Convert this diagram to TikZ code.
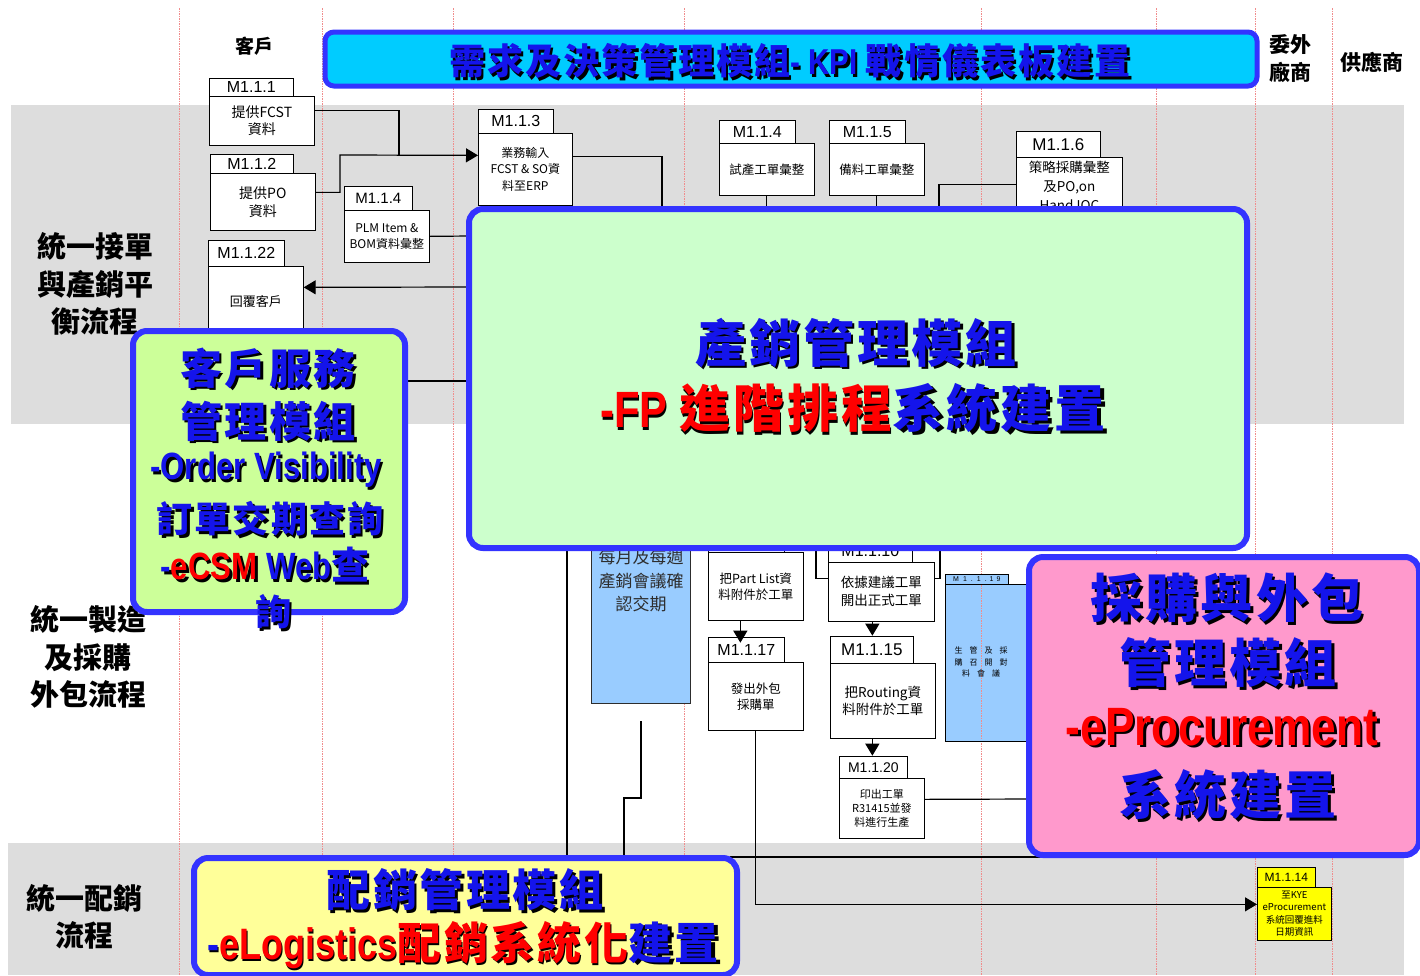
\documentclass[tikz,border=0pt]{standalone}
\usepackage{fontspec}
\setmainfont{Liberation Sans}
\newfontfamily\cjk{Noto Sans CJK TC}
\newfontfamily\cjks{Noto Sans CJK TC}[LetterSpace=6]
\newfontfamily\nar{Liberation Sans}[FakeStretch=0.82]
\usetikzlibrary{arrows.meta,calc}
\definecolor{bandgray}{RGB}{221,221,221}
\definecolor{linered}{RGB}{240,140,140}
\definecolor{bordblue}{RGB}{51,51,255}
\definecolor{titlecyan}{RGB}{0,204,255}
\definecolor{greenfill}{RGB}{204,255,204}
\definecolor{custfill}{RGB}{204,255,153}
\definecolor{pinkfill}{RGB}{255,153,204}
\definecolor{yellowfill}{RGB}{255,255,153}
\definecolor{yellowS}{RGB}{255,255,0}
\definecolor{lightblue}{RGB}{153,204,255}
\definecolor{hblue}{RGB}{20,20,235}
\definecolor{hred}{RGB}{255,0,0}
\definecolor{darktext}{RGB}{45,45,45}
\newcommand{\RED}{\color{hred}}
\newcommand{\fs}[2]{\cjk\fontsize{#1}{#2}\selectfont}
\newcommand{\fl}[1]{\fontsize{#1}{#1}\selectfont}
\newcommand{\shtext}[4]{%
  \node[#3, text=black] at ($(#2)+(2.5,2.5)$) {\let\RED\relax #4};
  \node[#3, text=hblue] (#1) at (#2) {#4};}
\begin{document}
\begin{tikzpicture}[x=1pt,y=-1pt,
  pb/.style={draw=black, fill=white, line width=0.7pt, inner sep=0pt, anchor=north west, align=center},
  conn/.style={draw=black, line width=1.2pt},
  arr/.style={-{Triangle[length=12pt,width=14pt]}},
  redline/.style={draw=linered, line width=0.5pt, dash pattern=on 1.5pt off 1pt},
  bigbox/.style={draw=bordblue, line width=6pt, rounded corners=14pt, anchor=north west, inner sep=0pt},
  bigt/.style={font={\cjks\bfseries\fontsize{#1}{#1}\selectfont}, inner sep=0pt},
  rowlab/.style={font={\cjk\bfseries\fontsize{29}{37.5}\selectfont}, align=center, inner sep=0pt},
  hdr/.style={font={\cjk\bfseries\fontsize{#1}{28}\selectfont}, align=center, inner sep=0pt},
]
\clip (0,0) rectangle (1420,975);
\fill[white] (0,0) rectangle (1420,975);
% swimlane bands
\fill[bandgray] (11,105) rectangle (1404,424);
\fill[bandgray] (8,843) rectangle (1404,975);
\foreach \x in {179,322,453,684,981,1156,1255,1332} \draw[redline] (\x,8) -- (\x,975);

% row labels and headers
\node[rowlab] (r1) at (95,284) {統一接單\\與產銷平\\衡流程};
\node[rowlab] (r2) at (88,657) {統一製造\\及採購\\外包流程};
\node[rowlab] (r3) at (84,917) {統一配銷\\流程};
\node[hdr=19] (hc) at (254,46) {客戶};
\node[hdr=21] (hw) at (1290,59) {委外\\廠商};
\node[hdr=21] (hs) at (1372,62) {供應商};

% process boxes
\node[pb, minimum width=84, minimum height=18, font=\fl{16}] (t111) at (209,78) {M1.1.1};
\node[pb, minimum width=105, minimum height=49, font=\fs{14}{17}] (b111) at (209,96) {提供FCST\\資料};
\node[pb, minimum width=83, minimum height=19, font=\fl{16}] (t112) at (210,154) {M1.1.2};
\node[pb, minimum width=105, minimum height=57, font=\fs{14}{18}] (b112) at (210,173) {提供PO\\資料};
\node[pb, minimum width=76, minimum height=26, font=\fl{16}] (t1122) at (208,240) {M1.1.22};
\node[pb, minimum width=95, minimum height=70, font=\fs{13}{16}] (b1122) at (208,266) {回覆客戶};
\node[pb, minimum width=68, minimum height=24, font=\fl{15}] (t114a) at (344,186) {M1.1.4};
\node[pb, minimum width=85, minimum height=52, font=\fs{12}{16}] (b114a) at (344,210) {PLM Item \&\\BOM資料彙整};
\node[pb, minimum width=75, minimum height=24, font=\fl{16}] (t113) at (478,109) {M1.1.3};
\node[pb, minimum width=94, minimum height=72, font=\fs{12}{16.5}] (b113) at (478,133) {業務輸入\\FCST \& SO資\\料至ERP};
\node[pb, minimum width=76, minimum height=23, font=\fl{16}] (t114b) at (719,120) {M1.1.4};
\node[pb, minimum width=95, minimum height=52, font=\fs{12.5}{15}] (b114b) at (719,143) {試產工單彙整};
\node[pb, minimum width=76, minimum height=23, font=\fl{16}] (t115) at (829,120) {M1.1.5};
\node[pb, minimum width=95, minimum height=52, font=\fs{12.5}{15}] (b115) at (829,143) {備料工單彙整};
\node[pb, minimum width=84, minimum height=26, font=\fl{17}] (t116) at (1016,131) {M1.1.6};
\node[pb, minimum width=106, minimum height=58, font=\fs{13.5}{19}] (b116) at (1016,157) {策略採購彙整\\及PO,on\\Hand IOC};

\node[pb, fill=lightblue, draw=darktext, minimum width=99, minimum height=203] (b1116) at (591,500) {};
\node[font=\fs{17}{23.5}, text=darktext, align=center, inner sep=0pt] (x1116) at (641,581) {每月及每週\\產銷會議確\\認交期};
\node[pb, minimum width=76, minimum height=24] (tpl) at (708,528) {};
\node[pb, minimum width=95, minimum height=68, font=\fs{12.5}{16}] (bpl) at (708,552) {把Part List資\\料附件於工單};
\node[pb, minimum width=76, minimum height=25, font=\fl{16}] (t1117) at (708,637) {M1.1.17};
\node[pb, minimum width=95, minimum height=68, font=\fs{12.5}{16}] (b1117) at (708,662) {發出外包\\採購單};
\node[pb, minimum width=84, minimum height=22, font=\fl{16}] (t1110) at (828,540) {M1.1.10};
\node[pb, minimum width=106, minimum height=59, font=\fs{13.5}{18}] (b1110) at (828,562) {依據建議工單\\開出正式工單};
\node[pb, minimum width=83, minimum height=27, font=\fl{17}] (t1115) at (830,636) {M1.1.15};
\node[pb, minimum width=105, minimum height=75, font=\fs{13.5}{17}] (b1115) at (830,663) {把Routing資\\料附件於工單};
\node[pb, minimum width=68, minimum height=22, font=\fl{14}] (t1120) at (839,756) {M1.1.20};
\node[pb, minimum width=85, minimum height=60, font=\fs{11}{14}] (b1120) at (839,778) {印出工單\\R31415並發\\料進行生產};
\node[pb, fill=lightblue, minimum width=63, minimum height=10, font=\fl{7}] (t1119) at (945,574) {M\hspace{4pt}1\hspace{4pt}.\hspace{4pt}1\hspace{4pt}.\hspace{3pt}1\hspace{3pt}9};
\node[pb, fill=lightblue, minimum width=85, minimum height=157] (b1119) at (945,584) {};
\draw[redline] (981,585) -- (981,740);
\node[font=\fs{8}{11.5}, align=center, inner sep=0pt] (x1119) at (981,662) {生\hspace{7pt}管\hspace{7pt}及\hspace{7pt}採\\購\hspace{7pt}召\hspace{7pt}開\hspace{7pt}對\\料\hspace{7pt}會\hspace{7pt}議};
\node[pb, fill=yellowS, minimum width=58, minimum height=20, font=\fl{12}] (t1114) at (1257,867) {M1.1.14};
\node[pb, fill=yellowS, minimum width=74, minimum height=53, font=\fs{9.5}{12.4}] (b1114) at (1257,887) {至KYE\\eProcurement\\系統回覆進料\\日期資訊};

% connectors
\draw[conn] ([yshift=10.5pt]b111.east) -| (399,155);
\draw[conn,arr] ([yshift=9.5pt]b112.east) -| (340,155) -- ([yshift=14pt]b113.west);
\draw[conn] (b114a.east) -- (470,236);
\draw[conn,arr] (468,287) -- ([yshift=14pt]b1122.east);
\draw[conn] (400,381) -- (468,381);
\draw[conn] ([yshift=13pt]b113.east) -| (662,215);
\draw[conn] (b114b.south) -- ++(0,15);
\draw[conn] (b115.south) -- ++(0,15);
\draw[conn] (939,215) |- ([yshift=2pt]b116.west);
\draw[conn] (816,540) |- ([yshift=13.5pt]b1110.west);
\draw[conn] (940,540) |- ([yshift=13.5pt]b1110.east);
\draw[conn,arr] ([xshift=-15.5pt]bpl.south) -- ++(0,22);
\draw[conn,arr] ([xshift=-9pt]b1110.south) -- ++(0,14);
\draw[conn,arr] ([xshift=-10.5pt]b1115.south) -- ++(0,17);
\draw[conn] ([yshift=9pt]b1120.east) -- (1030,799);
\draw[conn,arr] (b1117.south) |- ([yshift=9.5pt]b1114.west);
\draw[conn] (567,540) -- (567,858);
\draw[conn] (641,721) -- (641,798) -- (624,798) -- (624,858);
\draw[conn] (730,857) -- (1209,857);

% module boxes
\node[bigbox, fill=titlecyan, line width=5pt, rounded corners=9pt, minimum width=932, minimum height=54] (kpi) at (322.5,29.5) {};
\node[bigbox, fill=greenfill, minimum width=778, minimum height=339] (fp) at (466,206) {};
\node[bigbox, fill=custfill, minimum width=272, minimum height=281] (cs) at (130,328) {};
\node[bigbox, fill=pinkfill, minimum width=390, minimum height=298] (ep) at (1026,554) {};
\node[bigbox, fill=yellowfill, minimum width=543, minimum height=117] (el) at (191,855) {};

% module titles
\shtext{kpit}{790,61}{bigt=36}{需求及決策管理模組{\nar\bfseries - KPI }戰情儀表板建置}
\shtext{cs1}{268,368}{bigt=42}{客戶服務}
\shtext{cs2}{268,421}{bigt=42}{管理模組}
\shtext{cs3}{266,470}{bigt=38}{{\nar\bfseries -Order Visibility}}
\shtext{cs4}{270,519}{bigt=36}{訂單交期查詢}
\shtext{cs5}{265,565}{bigt=38}{{\nar\bfseries -{\RED eCSM} Web}查}
\shtext{cs6}{273,612}{bigt=36}{詢}
\shtext{fp1}{856,343}{bigt=51}{產銷管理模組}
\shtext{fp2}{853,408}{bigt=51}{{\RED{\nar\bfseries -FP }進階排程}系統建置}
\shtext{ep1}{1227,598}{bigt=52}{採購與外包}
\shtext{ep2}{1228,663}{bigt=52}{管理模組}
\shtext{ep3}{1222,727}{bigt=54}{{\RED\nar\bfseries -eProcurement}}
\shtext{ep4}{1228,795}{bigt=52}{系統建置}
\shtext{el1}{465,890}{bigt=44}{配銷管理模組}
\shtext{el2}{463,945}{bigt=44}{{\nar\bfseries -}{\RED{\nar\bfseries eLogistics}配銷系統化}建置}
\end{tikzpicture}
\end{document}
